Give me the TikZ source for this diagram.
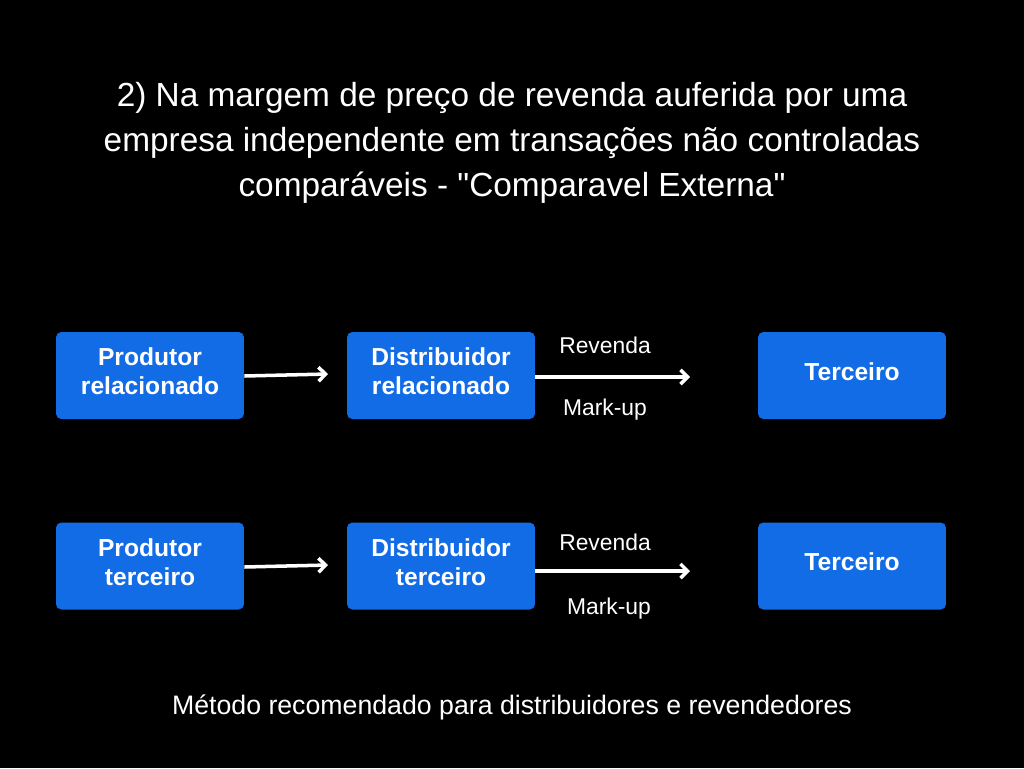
\documentclass[tikz,border=0pt]{standalone}
\usepackage{fontspec}
\setmainfont{Liberation Sans}[Ligatures=TeXOff]
\usetikzlibrary{positioning,arrows.meta}
\definecolor{BoxBlue}{RGB}{18,108,230}

\begin{document}
\begin{tikzpicture}[x=0.02cm,y=-0.02cm,
                % styles
                box/.style={rectangle, rounded corners=3pt, fill=BoxBlue, text=white, font=\fontsize{14}{16.5}\selectfont\bfseries, minimum width=3.76cm, minimum height=1.74cm, align=center, inner sep=0pt, text depth=4.5pt},
                arrowedge/.style={-{Straight Barb[length=4pt,width=8pt]}, draw=white, line width=2pt},
                elabel/.style={text=white, font=\fontsize{13}{15}\selectfont},
                title/.style={text=white, font=\fontsize{19}{25.5}\selectfont, align=center}
            ]
                \fill[black] (0,0) rectangle (1024,768);

                % --- TITULO ---
                \node[title] (titulo) at (512,143) {2) Na margem de preço de revenda auferida por uma\\empresa independente em transações não controladas\\comparáveis - "Comparavel Externa"};

                % --- LINHA 1 ---
                \node[box] (prod1) at (150,375.5) {Produtor\\relacionado};
                \node[box] (dist1) at (441,375.5) {Distribuidor\\relacionado};
                \node[box] (terc1) at (852,375.5) {Terceiro};
                \coordinate (p1) at (328,374);
                \coordinate (q1) at (690,377);
                \draw[arrowedge] (prod1.east |- 0,376) -- (p1);
                \draw[arrowedge] (dist1.east |- q1) -- (q1);
                \node[elabel] (rev1) at (605,345) {Revenda};
                \node[elabel] (mk1) at (605,410) {Mark-up};

                % --- LINHA 2 ---
                \node[box] (prod2) at (150,566) {Produtor\\terceiro};
                \node[box] (dist2) at (441,566) {Distribuidor\\terceiro};
                \node[box] (terc2) at (852,566) {Terceiro};
                \coordinate (p2) at (328,565);
                \coordinate (q2) at (690,571);
                \draw[arrowedge] (prod2.east |- 0,567) -- (p2);
                \draw[arrowedge] (dist2.east |- q2) -- (q2);
                \node[elabel] (rev2) at (605,542) {Revenda};
                \node[elabel] (mk2) at (609,609) {Mark-up};

                % --- RODAPE ---
                \node[text=white, font=\fontsize{15.2}{18}\selectfont] (rodape) at (512,707) {Método recomendado para distribuidores e revendedores};
\end{tikzpicture}
\end{document}
